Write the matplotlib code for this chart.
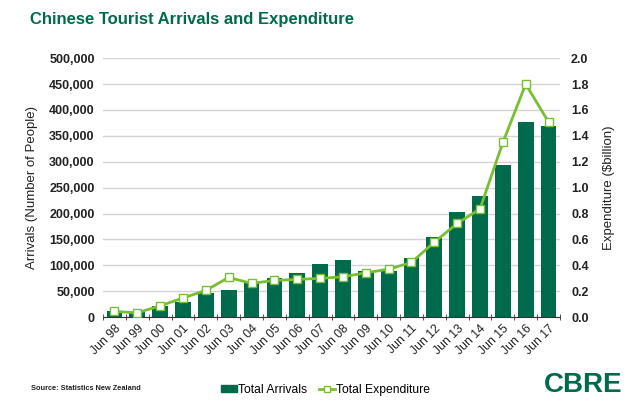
import matplotlib
matplotlib.use("Agg")
import matplotlib.pyplot as plt
from matplotlib.lines import Line2D
from matplotlib.patches import Patch
import numpy as np

categories = ["Jun 98", "Jun 99", "Jun 00", "Jun 01", "Jun 02", "Jun 03", "Jun 04",
              "Jun 05", "Jun 06", "Jun 07", "Jun 08", "Jun 09", "Jun 10", "Jun 11",
              "Jun 12", "Jun 13", "Jun 14", "Jun 15", "Jun 16", "Jun 17"]
arrivals = [12000, 10000, 21000, 30000, 46000, 53000, 65000, 76000, 86000, 103000,
            110000, 89000, 88000, 114000, 155000, 202000, 233000, 293000, 376000, 369000]
expenditure = [0.043, 0.033, 0.087, 0.147, 0.206, 0.306, 0.260, 0.283, 0.291, 0.299,
               0.311, 0.342, 0.370, 0.422, 0.579, 0.723, 0.836, 1.349, 1.800, 1.506]
left_ticks = list(range(0, 500001, 50000))
right_ticks = [0.0, 0.2, 0.4, 0.6, 0.8, 1.0, 1.2, 1.4, 1.6, 1.8, 2.0]

DARK = "#006A4D"
LIGHT = "#78BE32"
TXT = "#222222"

plt.rcParams['font.family'] = ['Liberation Sans', 'DejaVu Sans']

fig = plt.figure(figsize=(6.4, 4.07), dpi=100)
ax = fig.add_axes([0.161, 0.221, 0.714, 0.636])
x = np.arange(len(categories))
ax.bar(x, arrivals, width=0.69, color=DARK, zorder=2)
ax.set_xlim(-0.5, len(categories) - 0.5)
ax.set_ylim(0, 500000)
ax.set_yticks(left_ticks)
ax.set_yticklabels([f"{v:,}" for v in left_ticks], fontsize=9, color=TXT, fontweight='bold')
ax.yaxis.grid(True, color="#d4d4d4", lw=1)
ax.set_axisbelow(True)
for s in ["top", "left", "right"]:
    ax.spines[s].set_visible(False)
ax.spines["bottom"].set_color("#333333")
ax.tick_params(axis='y', length=0, pad=6)
ax.set_xticks(x)
ax.set_xticklabels(categories, rotation=45, ha='right', rotation_mode='anchor',
                   fontsize=8.8, color=TXT)
ax.tick_params(axis='x', length=0, pad=4)
ax.set_xticks(np.arange(-0.5, len(categories), 1.0), minor=True)
ax.tick_params(axis='x', which='minor', length=4, color="#333333", direction='inout')
ax.set_ylabel("Arrivals (Number of People)", fontsize=9.5, color=TXT, labelpad=8)

ax2 = ax.twinx()
ax2.plot(x, expenditure, color=LIGHT, lw=2.0, marker='s', markersize=5.5,
         markerfacecolor='white', markeredgecolor=LIGHT, markeredgewidth=1, zorder=3)
ax2.set_ylim(0, 2.0)
ax2.set_yticks(right_ticks)
ax2.set_yticklabels([f"{v:.1f}" for v in right_ticks], fontsize=9, color=TXT, fontweight='bold')
for s in ["top", "left", "right", "bottom"]:
    ax2.spines[s].set_visible(False)
ax2.tick_params(axis='y', length=0, pad=8)
ax2.set_ylabel("Expenditure ($billion)", fontsize=9.5, color=TXT, labelpad=10)

fig.text(0.047, 0.952, "Chinese Tourist Arrivals and Expenditure", fontsize=12,
         fontweight='bold', color=DARK, va='center', ha='left')
fig.text(0.049, 0.045, "Source: Statistics New Zealand", fontsize=5.3, fontweight='bold',
         color=TXT, va='center', ha='left')
fig.text(0.972, 0.054, "CBRE", fontsize=20, fontweight='bold', color=DARK,
         va='center', ha='right')

handles = [Patch(color=DARK),
           Line2D([0], [0], color=LIGHT, lw=2, marker='s', markersize=4.5,
                  markerfacecolor='white', markeredgecolor=LIGHT)]
fig.legend(handles, ["Total Arrivals", "Total Expenditure"], loc='center',
           bbox_to_anchor=(0.509, 0.042), ncol=2, frameon=False, fontsize=8.7,
           handlelength=1.3, handleheight=0.45, handletextpad=0.1, columnspacing=1.0)

fig.savefig("out.png", dpi=100)
